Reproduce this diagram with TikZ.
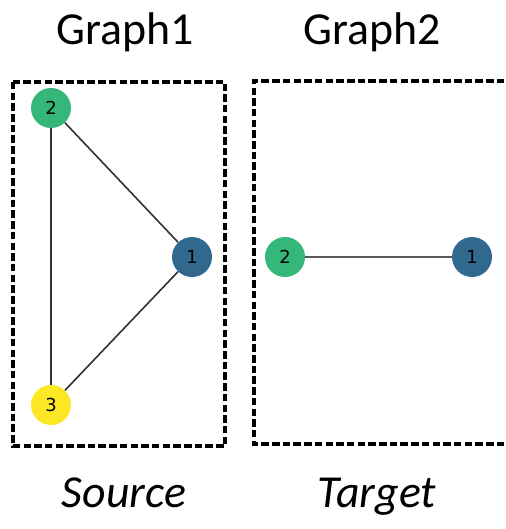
\documentclass[tikz,border=0pt]{standalone}
\usepackage{fontspec}
\setmainfont{Carlito}
\newfontfamily\labelfont{DejaVu Sans}
\definecolor{vgreen}{HTML}{35B779}
\definecolor{vblue}{HTML}{31688E}
\definecolor{vyellow}{HTML}{FDE725}
\tikzset{
  vertex/.style={circle, minimum size=40bp, inner sep=0pt, fill=#1,
    font=\labelfont\fontsize{18}{18}\selectfont},
  edge/.style={draw=black!80, line width=1.6bp},
  frame/.style={draw=black, line width=3.2bp, dash pattern=on 7.5bp off 3.2bp},
  title/.style={font=\fontsize{46}{50}\selectfont, anchor=base},
  caption/.style={font=\itshape\fontsize{46}{50}\selectfont, anchor=base}
}
\begin{document}
\begin{tikzpicture}[x=1bp, y=-1bp]
  \useasboundingbox (0,0) rectangle (506,529);
  \clip (0,0) rectangle (506,529);

  % titles
  \node[title] (t1) at (125,45) {Graph1};
  \node[title] (t2) at (372,45) {Graph2};

  % dashed frames
  \draw[frame] (13,82) rectangle (225,446);
  \draw[frame] (515,81) -- (254,81) -- (254,444) -- (515,444);

  % source graph
  \node[vertex=vgreen] (s2) at (51,108) {2};
  \node[vertex=vblue] (s1) at (192,257) {1};
  \node[vertex=vyellow] (s3) at (51,405) {3};
  \draw[edge] (s2) -- (s1);
  \draw[edge] (s2) -- (s3);
  \draw[edge] (s3) -- (s1);

  % target graph
  \node[vertex=vgreen] (g2) at (285,257) {2};
  \node[vertex=vblue] (g1) at (472,257) {1};
  \draw[edge, draw=black!65, line width=2.2bp] (g2) -- (g1);

  % captions
  \node[caption] (c1) at (124,507) {Source};
  \node[caption] (c2) at (377,507) {Target};
\end{tikzpicture}
\end{document}
